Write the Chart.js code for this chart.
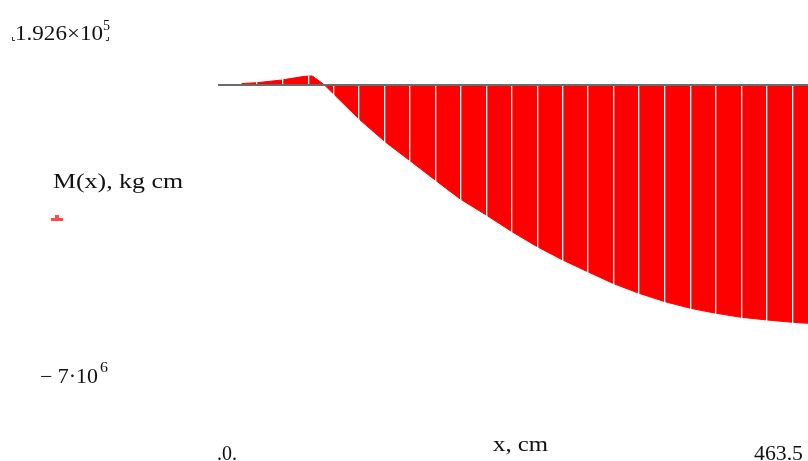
<!DOCTYPE html>
<html>
<head>
<meta charset="utf-8">
<script src="https://cdn.jsdelivr.net/npm/chart.js@4"></script>
<style>
  html, body { margin: 0; padding: 0; background: #ffffff; }
  #wrap { position: relative; width: 808px; height: 461px; }
</style>
</head>
<body>
<div id="wrap"><canvas id="c" width="808" height="461"></canvas></div>
<script>
// ---- data ----
const xValues = [18.6, 30.4, 50.0, 70.7, 73.6, 83.5, 111.0, 131.2, 150.8, 170.5, 190.3, 210.7, 231.0, 250.8, 270.8, 290.4, 310.2, 330.7, 351.2, 371.1, 391.2, 411.0, 431.1, 451.2, 463.5];
const mValues = [25000, 43000, 99000, 188000, 192600, 0, -714000, -1178000, -1571000, -1970000, -2364000, -2695000, -3041000, -3351000, -3626000, -3868000, -4109000, -4316000, -4489000, -4626000, -4729000, -4812000, -4867000, -4915000, -4936000];
// positions (in x units) of the thin white separators seen in the filled area
const separatorXs = [30.4, 50.8, 71.2, 90.6, 110.8, 130.6, 150.8, 170.9, 190.9, 211.1, 231.0, 250.8, 270.8, 290.4, 310.5, 330.7, 351.2, 371.1, 391.2, 411.3, 431.0, 451.2];
const xMin = 0, xMax = 463.5;
const yMin = -7e6, yMax = 192600;
const yTopLabel = ["1.926\u00d710", "5"];
const yBottomLabel = ["\u2212 7\u00b710", "6"];
const xLeftLabel = ".0.";
const xRightLabel = "463.5";
const yTitle = "M(x), kg cm";
const xTitle = "x, cm";

const points = xValues.map((x, i) => ({ x: x, y: mValues[i] }));

const SERIF = "'Liberation Serif', 'DejaVu Serif', serif";

function drawStretched(ctx, text, left, baseline, size, targetWidth, color) {
  ctx.save();
  ctx.font = size + "px " + SERIF;
  ctx.fillStyle = color || "#111111";
  ctx.textBaseline = "alphabetic";
  ctx.textAlign = "left";
  const w = ctx.measureText(text).width;
  const s = targetWidth ? targetWidth / w : 1;
  ctx.translate(left, baseline);
  ctx.scale(s, 1);
  ctx.fillText(text, 0, 0);
  ctx.restore();
}

const labelPlugin = {
  id: "mathcadLabels",
  afterDraw(chart) {
    const ctx = chart.ctx;
    // y-limit labels
    drawStretched(ctx, yTopLabel[0], 15, 40, 20, 88);
    drawStretched(ctx, yTopLabel[1], 103, 30, 15, 7);
    drawStretched(ctx, yBottomLabel[0], 40, 383, 20, 58);
    drawStretched(ctx, yBottomLabel[1], 100, 372, 15, 8);
    // placeholder corner marks around upper limit
    ctx.save();
    ctx.strokeStyle = "#333";
    ctx.lineWidth = 1;
    ctx.beginPath();
    ctx.moveTo(12.5, 37); ctx.lineTo(12.5, 40.5); ctx.lineTo(15, 40.5);
    ctx.moveTo(108.5, 37); ctx.lineTo(108.5, 40.5); ctx.lineTo(106, 40.5);
    ctx.stroke();
    ctx.restore();
    // y title
    drawStretched(ctx, yTitle, 53, 188, 22, 130);
    // small red trace marker
    ctx.save();
    ctx.fillStyle = "#ff4a4a";
    ctx.fillRect(55, 215, 4, 4);
    ctx.fillRect(51, 218, 12, 3);
    ctx.restore();
    // x labels
    drawStretched(ctx, xLeftLabel, 217, 460, 20, 20);
    drawStretched(ctx, xTitle, 493, 451, 22, 55);
    drawStretched(ctx, xRightLabel, 754, 460, 20, 49);
  }
};

new Chart(document.getElementById("c"), {
  type: "line",
  data: {
    datasets: [{
      data: points,
      borderColor: "#ff0000",
      backgroundColor: "#ff0000",
      borderWidth: 1,
      pointRadius: 0,
      tension: 0,
      fill: "origin"
    }]
  },
  options: {
    responsive: false,
    animation: false,
    devicePixelRatio: 1,
    layout: { padding: { left: 218, right: 0, top: 75.5, bottom: 38 } },
    plugins: { legend: { display: false }, tooltip: { enabled: false } },
    scales: {
      x: {
        type: "linear",
        min: xMin, max: xMax,
        ticks: { display: false },
        border: { display: false },
        grid: { color: "#ffffff", lineWidth: 1.3, drawTicks: false, z: 1 },
        afterBuildTicks(axis) { axis.ticks = separatorXs.map(v => ({ value: v })); }
      },
      y: {
        type: "linear",
        min: yMin, max: yMax,
        ticks: { display: false },
        border: { display: false },
        grid: { color: "#6b6b6b", lineWidth: 2, drawTicks: false, z: 2 },
        afterBuildTicks(axis) { axis.ticks = [{ value: 0 }]; }
      }
    }
  },
  plugins: [labelPlugin]
});
</script>
</body>
</html>
